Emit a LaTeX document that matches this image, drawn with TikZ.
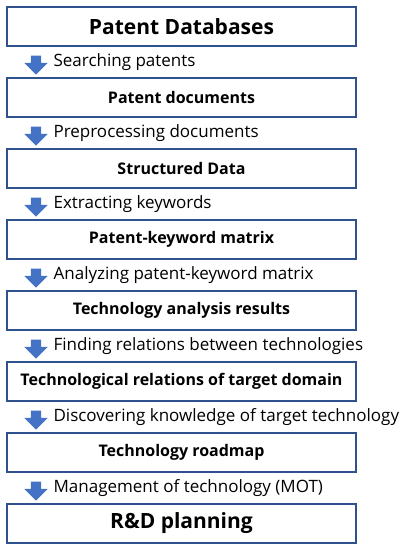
\documentclass[tikz,border=0pt]{standalone}
\usepackage{fontspec}
\setmainfont{Open Sans}
\usetikzlibrary{shapes.arrows,positioning}
\definecolor{Frame}{RGB}{47,82,143}
\definecolor{Flow}{RGB}{68,114,196}

\tikzset{
    stagebox/.style={draw=Frame, line width=1.3bp, minimum width=349bp, minimum height=39bp,
        inner sep=0pt, font=\fontsize{16bp}{18bp}\selectfont\bfseries},
    bigstage/.style={font=\fontsize{21bp}{24bp}\selectfont\bfseries},
    flowarrow/.style={single arrow, fill=Flow, draw=none, shape border rotate=270,
        minimum width=23bp, minimum height=19bp, single arrow head extend=6.5bp,
        single arrow head indent=0pt, inner sep=5bp},
    steplabel/.style={font=\fontsize{17bp}{19bp}\selectfont, inner sep=0pt, anchor=west}
}

\begin{document}
\begin{tikzpicture}[x=1bp,y=-1bp]
        % Dimensions of the flow chart
        \def\boxcenter{181.5}
        \def\firstbox{26.5}
        \def\stepsize{71}
        \useasboundingbox (0,0) rectangle (406,550);

        % Draw the stage boxes
        \foreach \i/\name/\size/\txt in {0/db/bigstage/Patent Databases, 1/docs/stagebox/Patent documents,
            2/data/stagebox/Structured Data, 3/matrix/stagebox/Patent-keyword matrix,
            4/results/stagebox/Technology analysis results, 5/relations/stagebox/Technological relations of target domain,
            6/roadmap/stagebox/Technology roadmap, 7/planning/bigstage/R\&D planning} {
            \node[stagebox, \size] (\name) at (\boxcenter, \firstbox+\i*\stepsize) {\txt};
        }

        % Add the arrows and the step labels between the boxes
        \foreach \i/\txt in {0/Searching patents, 1/Preprocessing documents, 2/Extracting keywords,
            3/Analyzing patent-keyword matrix, 4/Finding relations between technologies,
            5/Discovering knowledge of target technology, 6/Management of technology (MOT)} {
            \node[flowarrow] (arrow\i) at (36, \firstbox+36+\i*\stepsize) {};
            \node[steplabel, right=12bp of arrow\i] (label\i) {\txt};
        }
    \end{tikzpicture}
\end{document}
